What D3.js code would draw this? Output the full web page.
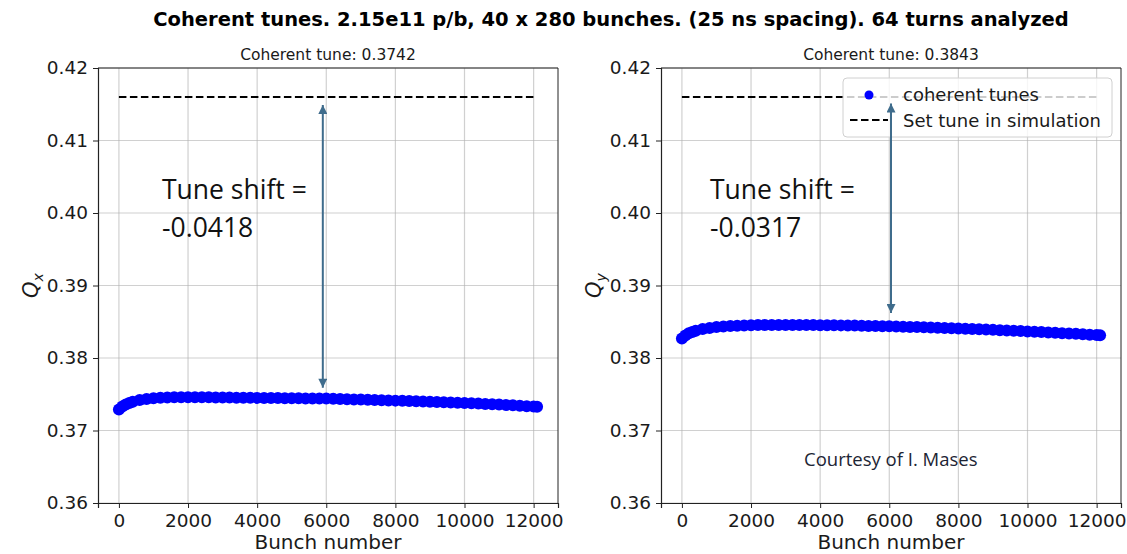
<!DOCTYPE html>
<html>
<head>
<meta charset="utf-8">
<script src="https://cdn.jsdelivr.net/npm/d3@7"></script>
<style>
  body { margin: 0; background: #fff; }
  svg { display: block; }
  text { font-family: "DejaVu Sans", sans-serif; fill: #1a1a1a; }
  .tick line { stroke: #222; }
  .domain { stroke: #222; }
  .note { font-family: "Open Sans", "Noto Sans", sans-serif; fill: #111; }
</style>
</head>
<body>
<svg id="chart"></svg>
<script>
// values
const bunches = [0, 100, 200, 300, 400, 600, 800, 1000, 1200, 1400, 1600, 1800, 2000,
  2200, 2400, 2600, 2800, 3000, 3200, 3400, 3600, 3800, 4000, 4200, 4400, 4600, 4800, 5000,
  5200, 5400, 5600, 5800, 6000, 6200, 6400, 6600, 6800, 7000, 7200, 7400, 7600, 7800, 8000,
  8200, 8400, 8600, 8800, 9000, 9200, 9400, 9600, 9800, 10000, 10200, 10400, 10600, 10800,
  11000, 11200, 11400, 11600, 11800, 12000, 12100]

const qx = [0.3729, 0.3733, 0.3736, 0.3738, 0.37395, 0.3742, 0.37435, 0.37445, 0.37452, 0.37456, 0.37459, 0.3746, 0.3746,
  0.37459, 0.37458, 0.37457, 0.37456, 0.37455, 0.37454, 0.37453, 0.37452, 0.37451, 0.3745, 0.37449, 0.37448, 0.37447, 0.37446, 0.37445,
  0.37444, 0.37443, 0.37442, 0.37441, 0.3744, 0.37437, 0.37434, 0.37431, 0.37428, 0.37426, 0.37423, 0.3742, 0.37417, 0.37415, 0.37412,
  0.37409, 0.37406, 0.37403, 0.374, 0.37397, 0.37393, 0.3739, 0.37387, 0.37383, 0.3738, 0.37376, 0.37371, 0.37367, 0.37362,
  0.37357, 0.37352, 0.37347, 0.37341, 0.37336, 0.3733, 0.37327]

const qy = [0.3827, 0.3831, 0.3834, 0.3836, 0.38375, 0.384, 0.38415, 0.38427, 0.38435, 0.38441, 0.38446, 0.38449, 0.38452,
  0.38454, 0.38455, 0.38456, 0.38456, 0.38456, 0.38456, 0.38455, 0.38455, 0.38454, 0.38453, 0.38452, 0.38451, 0.3845, 0.38448, 0.38447,
  0.38445, 0.38443, 0.38441, 0.38439, 0.38437, 0.38434, 0.38432, 0.38429, 0.38426, 0.38423, 0.3842, 0.38417, 0.38414, 0.3841, 0.38407,
  0.38403, 0.384, 0.38396, 0.38392, 0.38388, 0.38384, 0.3838, 0.38376, 0.38371, 0.38367, 0.38362, 0.38358, 0.38353, 0.38348,
  0.38343, 0.38338, 0.38333, 0.38327, 0.38322, 0.38316, 0.38313]

const xTicks = [0, 2000, 4000, 6000, 8000, 10000, 12000]
const yTicks = [0.36, 0.37, 0.38, 0.39, 0.40, 0.41, 0.42]
const setTune = 0.416
const setRange = [0, 12000]

const panels = [
  { name: 'x', values: qx, tune: '0.3742', shift: '-0.0418', arrowX: 5900, arrowY: [0.4149, 0.3759], noteX: 64 },
  { name: 'y', values: qy, tune: '0.3843', shift: '-0.0317', arrowX: 6050, arrowY: [0.4151, 0.3862], noteX: 49 }
]

const W = 1127, H = 554
const width = 460, height = 435
const plotTop = 68
const lefts = [98, 661]
const arrowColour = '#3f6c8c'

const svg = d3.select('#chart').attr('width', W).attr('height', H)

svg.append('defs').append('marker')
    .attr('id', 'head')
    .attr('viewBox', '0 0 10 10')
    .attr('refX', 10).attr('refY', 5)
    .attr('markerUnits', 'userSpaceOnUse')
    .attr('markerWidth', 10).attr('markerHeight', 9)
    .attr('orient', 'auto-start-reverse')
    .append('path')
    .attr('d', 'M0,0 L10,5 L0,10 Z')
    .style('fill', arrowColour)

svg.append('text')
    .attr('x', 611).attr('y', 26)
    .attr('text-anchor', 'middle')
    .style('font-weight', 'bold')
    .style('font-size', '19.5px')
    .style('fill', '#000')
    .text('Coherent tunes. 2.15e11 p/b, 40 x 280 bunches. (25 ns spacing). 64 turns analyzed')

const x = d3.scaleLinear().domain([-605, 12705]).range([0, width])
const y = d3.scaleLinear().domain([0.36, 0.42]).range([height, 0])

panels.forEach((p, k) => {
    let g = svg.append('g').attr('transform', `translate(${lefts[k]},${plotTop})`)

    // grid
    g.append('g').selectAll('line').data(xTicks).join('line')
        .attr('x1', d => x(d)).attr('x2', d => x(d))
        .attr('y1', 0).attr('y2', height)
        .style('stroke', '#b0b0b0').style('stroke-opacity', 0.6).style('stroke-width', 1.2)
    g.append('g').selectAll('line').data(yTicks).join('line')
        .attr('y1', d => y(d)).attr('y2', d => y(d))
        .attr('x1', 0).attr('x2', width)
        .style('stroke', '#b0b0b0').style('stroke-opacity', 0.6).style('stroke-width', 1.2)

    // set tune
    g.append('line')
        .attr('x1', x(setRange[0])).attr('x2', x(setRange[1]))
        .attr('y1', y(setTune)).attr('y2', y(setTune))
        .style('stroke', '#000').style('stroke-width', 2)
        .style('stroke-dasharray', '7.5,3.5')

    // coherent tunes
    g.append('g').selectAll('circle').data(p.values).join('circle')
        .attr('cx', (d, i) => x(bunches[i]))
        .attr('cy', d => y(d))
        .attr('r', 6)
        .style('fill', '#0000ff')

    // axes
    g.append('g').attr('transform', `translate(0,${height})`)
        .call(d3.axisBottom(x).tickValues(xTicks).tickSize(5).tickPadding(6).tickFormat(d3.format('d')))
    g.append('g')
        .call(d3.axisLeft(y).tickValues(yTicks).tickSize(5).tickPadding(5).tickFormat(d3.format('.2f')))
    g.append('line').attr('x1', width).attr('x2', width).attr('y1', 0).attr('y2', height)
        .style('stroke', '#222')
    g.append('line').attr('x1', 0).attr('x2', width).attr('y1', 0).attr('y2', 0)
        .style('stroke', '#222')
    g.selectAll('.tick text').style('font-size', '18.5px').style('font-family', '"DejaVu Sans", sans-serif').style('fill', '#1a1a1a')
    g.selectAll('.domain').style('stroke-width', 1.2)

    g.append('text')
        .attr('x', width / 2).attr('y', -8)
        .attr('text-anchor', 'middle')
        .style('font-size', '15.5px')
        .text(`Coherent tune: ${p.tune}`)

    g.append('text')
        .attr('x', width / 2).attr('y', height + 46)
        .attr('text-anchor', 'middle')
        .style('font-size', '20px')
        .text('Bunch number')

    let ylab = g.append('text')
        .attr('transform', `translate(-60,${height / 2}) rotate(-90)`)
        .attr('text-anchor', 'middle')
        .style('font-size', '21px')
    ylab.append('tspan').style('font-style', 'italic').text('Q')
    ylab.append('tspan').attr('dy', 5).style('font-size', '14px').style('font-style', 'italic').text(p.name)

    // legend (right panel only)
    if (k === 1) {
        let lg = g.append('g').attr('transform', `translate(${843 - lefts[k]},${78 - plotTop})`)
        lg.append('rect')
            .attr('width', 269).attr('height', 59).attr('rx', 4)
            .style('fill', '#fff').style('fill-opacity', 0.8)
            .style('stroke', '#d0d0d0')
        lg.append('circle').attr('cx', 26).attr('cy', 17).attr('r', 4.5).style('fill', '#0000ff')
        lg.append('line').attr('x1', 7).attr('x2', 45).attr('y1', 42).attr('y2', 42)
            .style('stroke', '#000').style('stroke-width', 2).style('stroke-dasharray', '7.5,3.5')
        lg.append('text').attr('x', 60).attr('y', 23).style('font-size', '18px').text('coherent tunes')
        lg.append('text').attr('x', 60).attr('y', 49).style('font-size', '18px').text('Set tune in simulation')
    }

    // tune shift annotation
    g.append('line')
        .attr('x1', x(p.arrowX)).attr('x2', x(p.arrowX))
        .attr('y1', y(p.arrowY[0])).attr('y2', y(p.arrowY[1]))
        .style('stroke', arrowColour).style('stroke-width', 2)
        .attr('marker-start', 'url(#head)')
        .attr('marker-end', 'url(#head)')

    let note = g.append('text').attr('class', 'note').style('font-size', '26.5px')
    note.append('tspan').attr('x', p.noteX).attr('y', 199 - plotTop).text('Tune shift =')
    note.append('tspan').attr('x', p.noteX).attr('y', 237 - plotTop).text(p.shift)

    if (k === 1) {
        g.append('text').attr('class', 'note')
            .attr('x', 804 - lefts[k]).attr('y', 466 - plotTop)
            .style('font-size', '18.5px').style('fill', '#1c2434')
            .text('Courtesy of I. Mases')
    }
})
</script>
</body>
</html>
